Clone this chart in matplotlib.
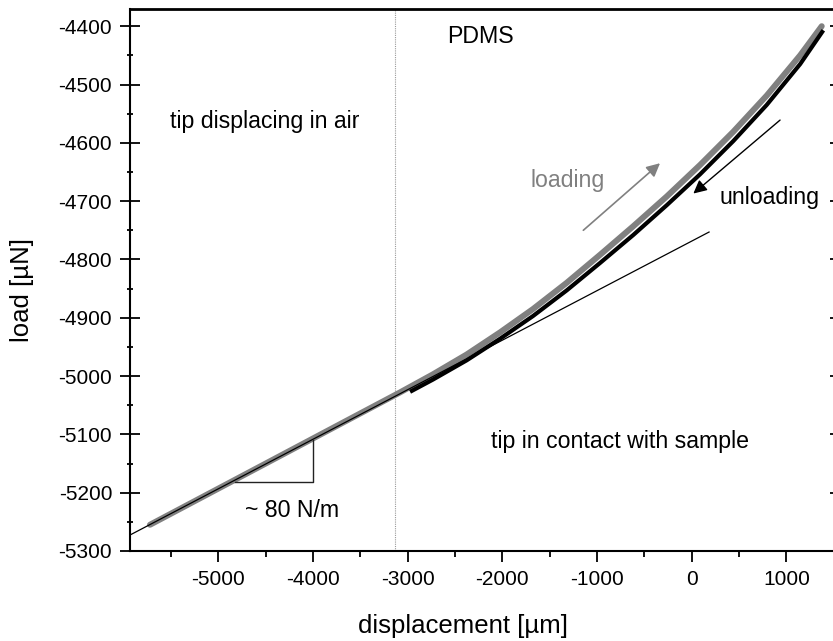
import matplotlib
matplotlib.use("Agg")
import matplotlib.pyplot as plt
from matplotlib.ticker import MultipleLocator

plt.rcParams['font.family'] = ['Liberation Sans', 'DejaVu Sans']

# ---- data ----
loading_x = [-5722, -4500, -3500, -3081, -2733, -2377, -2024, -1676, -1320,
             -968, -617, -264, 88, 439, 792, 1145, 1373]
loading_y = [-5255, -5150, -5064, -5028, -4997, -4963, -4925, -4885, -4840,
             -4792, -4743, -4692, -4638, -4581, -4519, -4450, -4400]

unloading_x = [1390, 1145, 792, 439, 88, -264, -617, -968, -1320, -1676,
               -2024, -2377, -2733, -2975]
unloading_y = [-4407, -4465, -4535, -4597, -4654, -4707, -4758, -4806, -4853,
               -4897, -4936, -4973, -5006, -5027]

fit_x = [-5933, 183]
fit_y = [-5272.6, -4753]

tri_x = [-4823, -4003, -4003]
tri_y = [-5182, -5182, -5110]

contact_x = -3134

xticks = [-5000, -4000, -3000, -2000, -1000, 0, 1000]
yticks = [-5300, -5200, -5100, -5000, -4900, -4800, -4700, -4600, -4500, -4400]

# ---- figure ----
fig = plt.figure(figsize=(8.33, 6.41), dpi=100)
ax = fig.add_axes([0.15606, 0.14041, 0.85234, 0.84602])

ax.axvline(contact_x, color='#9a9a9a', lw=0.8, ls=(0, (1, 1)), zorder=1)
ax.plot(loading_x, loading_y, color='#808080', lw=4.3, solid_capstyle='round',
        solid_joinstyle='round', zorder=2)
ax.plot(fit_x, fit_y, color='black', lw=0.9, zorder=3)
ax.plot(unloading_x, unloading_y, color='black', lw=3.0, solid_capstyle='butt',
        solid_joinstyle='round', zorder=4)
ax.plot(tri_x, tri_y, color='#222222', lw=1.0, zorder=3)

ax.annotate('', xy=(-335, -4635), xytext=(-1145, -4750),
            arrowprops=dict(arrowstyle='-|>', color='#808080', lw=1.2,
                            mutation_scale=20, shrinkA=0, shrinkB=0))
ax.annotate('', xy=(17, -4687), xytext=(933, -4561),
            arrowprops=dict(arrowstyle='-|>', color='black', lw=1.0,
                            mutation_scale=20, shrinkA=0, shrinkB=0))

fs = 15
afs = 16.7
ax.text(-2236, -4417, 'PDMS', fontsize=afs, ha='center', va='center')
ax.text(-5511, -4564, 'tip displacing in air', fontsize=afs, ha='left', va='center')
ax.text(-1307, -4664, 'loading', fontsize=afs, ha='center', va='center', color='#808080')
ax.text(817, -4693, 'unloading', fontsize=afs, ha='center', va='center')
ax.text(-2123, -5113, 'tip in contact with sample', fontsize=afs, ha='left', va='center')
ax.text(-4222, -5231, '~ 80 N/m', fontsize=afs, ha='center', va='center')

ax.set_xlim(-5933, 1566)
ax.set_ylim(-5300, -4370)
ax.set_xticks(xticks)
ax.set_yticks(yticks)
ax.set_xticklabels([str(v) for v in xticks])
ax.set_yticklabels([str(v) for v in yticks])
ax.xaxis.set_minor_locator(MultipleLocator(500))
ax.yaxis.set_minor_locator(MultipleLocator(50))

ax.tick_params(axis='x', which='major', direction='out', length=8, width=1.3,
               labelsize=fs, pad=6, top=False)
ax.tick_params(axis='x', which='minor', direction='out', length=4, width=1.3, top=False)
ax.tick_params(axis='y', which='major', direction='inout', length=14.4, width=1.3,
               labelsize=fs, pad=5.6, right=True)
ax.tick_params(axis='y', which='minor', direction='inout', length=5, width=1.3, right=True)

for s in ['left', 'bottom']:
    ax.spines[s].set_linewidth(1.5)
ax.spines['top'].set_linewidth(2.0)
ax.spines['right'].set_linewidth(1.5)

ax.set_xlabel('displacement [µm]', fontsize=18.5)
ax.xaxis.label.set_va('center')
ax.xaxis.set_label_coords(0.469, -0.139)
ax.set_ylabel('load [µN]', fontsize=18.5)
ax.yaxis.label.set_va('center')
ax.yaxis.set_label_coords(-0.152, 0.481)

fig.savefig('out.png', dpi=100)
